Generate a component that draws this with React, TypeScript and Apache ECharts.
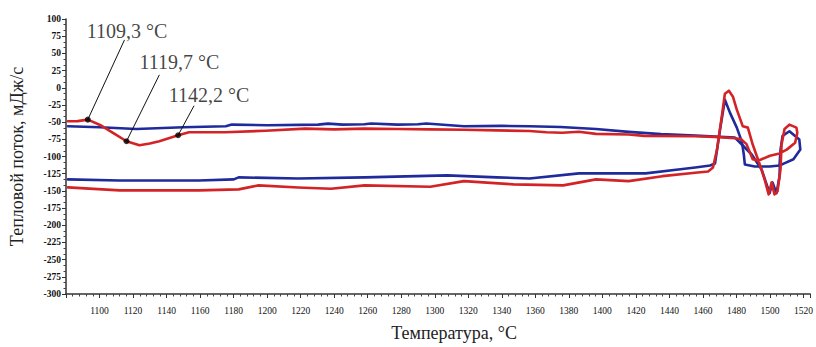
import React, { useEffect, useRef } from "react";
import * as echarts from "echarts";

// Heat flow curves: [temperature °C, heat flow mJ/s]
const blueUpper: number[][] = [
  [1081.2, -56.1], [1100.1, -57.5], [1122.0, -59.9], [1150.0, -57.5], [1175.3, -56.1],
  [1178.9, -53.6], [1200.0, -54.5], [1230.4, -53.6], [1236.3, -52.2], [1245.0, -53.6],
  [1258.0, -53.0], [1262.0, -52.0], [1277.7, -53.6], [1290.0, -53.0], [1295.0, -52.0],
  [1317.4, -56.1], [1340.0, -55.5], [1356.5, -56.1], [1375.0, -57.0], [1396.2, -59.9],
  [1415.7, -64.2], [1435.0, -67.5], [1455.4, -69.6], [1467.2, -71.0], [1479.1, -72.5],
  [1483.2, -82.6], [1489.1, -97.1], [1495.0, -118.8], [1498.0, -140.6], [1499.8, -153.5],
  [1501.5, -137.7], [1503.9, -153.5], [1505.7, -128.6], [1505.9, -113.0]
];

const blueLower: number[][] = [
  [1081.2, -133.3], [1112.0, -134.8], [1159.3, -134.8], [1180.1, -133.3], [1183.0, -130.4],
  [1218.5, -131.9], [1258.2, -130.4], [1307.4, -127.5], [1337.0, -130.4], [1356.5, -131.9],
  [1386.1, -124.6], [1425.8, -124.6], [1445.3, -118.8], [1455.4, -115.9], [1464.3, -113.0],
  [1467.2, -110.1], [1470.2, -60.9], [1473.1, -17.4], [1476.1, -36.2], [1480.2, -58.0],
  [1483.2, -78.3], [1484.4, -97.1], [1485.0, -111.6], [1490.9, -114.5], [1499.8, -114.5],
  [1505.7, -113.0], [1506.3, -90.0], [1507.5, -70.0], [1511.6, -63.3], [1517.5, -75.4],
  [1518.1, -89.9], [1514.0, -104.0], [1508.5, -110.0], [1505.7, -113.0]
];

const redUpper: number[][] = [
  [1081.2, -48.8], [1087.0, -48.5], [1093.0, -46.4], [1101.0, -55.0], [1109.0, -67.0],
  [1116.1, -77.8], [1123.8, -83.6], [1130.0, -81.0], [1135.7, -77.8], [1146.9, -69.1],
  [1153.4, -64.8], [1175.0, -64.8], [1199.0, -62.5], [1222.7, -59.5], [1240.0, -60.5],
  [1258.0, -59.5], [1277.7, -60.0], [1297.0, -60.5], [1317.4, -61.0], [1337.0, -62.0],
  [1356.5, -63.0], [1366.6, -64.8], [1376.0, -65.5], [1386.0, -64.0], [1396.2, -67.1],
  [1415.7, -68.0], [1425.0, -70.0], [1455.4, -70.6], [1467.0, -71.5], [1479.1, -73.5],
  [1482.6, -74.5], [1486.0, -82.0], [1489.7, -104.0], [1493.0, -106.0]
];

const redLower: number[][] = [
  [1081.2, -144.9], [1112.0, -149.3], [1159.3, -149.3], [1183.0, -147.8], [1194.9, -142.0],
  [1218.5, -145.0], [1238.1, -146.8], [1258.2, -142.0], [1297.3, -143.9], [1317.4, -135.8],
  [1347.0, -140.6], [1376.6, -142.0], [1396.2, -133.3], [1415.7, -135.8], [1435.8, -128.6],
  [1455.4, -123.6], [1463.1, -121.7], [1466.0, -115.9], [1468.4, -89.9], [1471.4, -39.1],
  [1473.1, -8.7], [1475.5, -4.3], [1477.9, -13.0], [1480.2, -31.9], [1483.8, -56.1],
  [1486.8, -58.0], [1489.7, -82.6], [1493.9, -111.6], [1496.8, -133.3], [1499.2, -155.1],
  [1501.0, -137.7], [1502.7, -155.1], [1504.5, -150.7], [1506.3, -118.8], [1506.9, -82.6],
  [1508.7, -60.0], [1511.6, -53.6], [1515.8, -58.0], [1516.3, -65.6], [1515.0, -80.0],
  [1510.0, -90.0], [1505.7, -95.5], [1500.0, -99.0], [1493.0, -106.0]
];

// Annotated points and label anchors
const peakLabels = ["1109,3 °C", "1119,7 °C", "1142,2 °C"];
const peakPoints: number[][] = [[1093.0, -46.4], [1116.1, -77.8], [1146.9, -69.1]];
const labelAnchors: number[][] = [[1114.9, 69.6], [1135.7, 18.8], [1156.4, -26.1]];
const labelOffsets: number[][] = [[2.5, -8.5], [20, -12.5], [15, -11]];

const SERIF = "'Liberation Serif', 'Times New Roman', serif";

export default function App() {
  const ref = useRef<HTMLDivElement>(null);
  useEffect(() => {
    if (!ref.current) return;
    const chart = echarts.init(ref.current, undefined, { renderer: "svg" });
    const blue = "#1f2a9c";
    const red = "#d42326";
    const lineBase = (name: string, data: number[][], color: string) => ({
      name,
      type: "line",
      data,
      showSymbol: false,
      symbol: "none",
      smooth: false,
      lineStyle: { color, width: 2.6, join: "round", cap: "round" },
      z: color === red ? 3 : 2,
    });
    chart.setOption({
      animation: false,
      backgroundColor: "#ffffff",
      grid: { left: 66, right: 0, top: 19, bottom: 52, containLabel: false },
      xAxis: {
        type: "value",
        min: 1080,
        max: 1524,
        interval: 20,
        name: "Температура, °С",
        nameLocation: "middle",
        nameGap: 30,
        nameTextStyle: { fontFamily: SERIF, fontSize: 18, color: "#222", padding: [0, 0, 0, 32] },
        axisLine: { show: true, onZero: false, lineStyle: { color: "#333", width: 1.5 } },
        axisTick: { show: true, length: 4, lineStyle: { color: "#333" } },
        minorTick: { show: true, splitNumber: 5, length: 2.5, lineStyle: { color: "#444" } },
        splitLine: { show: false },
        axisLabel: {
          fontFamily: SERIF,
          fontSize: 9.5,
          color: "#111",
          margin: 12,
          formatter: (v: number) => (v === 1080 ? "" : String(v)),
        },
      },
      yAxis: {
        type: "value",
        min: -300,
        max: 100,
        interval: 25,
        name: "Тепловой поток, мДж/с",
        nameLocation: "middle",
        nameGap: 40,
        nameTextStyle: { fontFamily: SERIF, fontSize: 18, color: "#222" },
        axisLine: { show: true, onZero: false, lineStyle: { color: "#333", width: 1.5 } },
        axisTick: { show: true, length: 4, lineStyle: { color: "#333" } },
        minorTick: { show: true, splitNumber: 3, length: 2.5, lineStyle: { color: "#444" } },
        splitLine: { show: false },
        axisLabel: { fontFamily: SERIF, fontSize: 9.5, fontWeight: "bold", color: "#111", margin: 5 },
      },
      series: [
        lineBase("blueUpper", blueUpper, blue),
        lineBase("blueLower", blueLower, blue),
        lineBase("redUpper", redUpper, red),
        lineBase("redLower", redLower, red),
        {
          name: "peaks",
          type: "scatter",
          data: peakPoints,
          symbol: "circle",
          symbolSize: 6,
          itemStyle: { color: "#000" },
          z: 5,
          markLine: {
            silent: true,
            symbol: "none",
            label: { show: false },
            lineStyle: { color: "#111", width: 1, type: "solid" },
            data: peakPoints.map((p, i) => [{ coord: p }, { coord: labelAnchors[i] }]),
          },
        },
        {
          name: "labels",
          type: "scatter",
          symbolSize: 0,
          data: labelAnchors.map((p, i) => ({
            value: p,
            label: {
              show: true,
              position: "inside",
              offset: labelOffsets[i],
              formatter: peakLabels[i],
              fontFamily: SERIF,
              fontSize: 20,
              color: "#111",
            },
          })),
          z: 6,
        },
      ],
    });
    return () => chart.dispose();
  }, []);
  return (
    <div
      ref={ref}
      style={{ position: "fixed", left: 0, top: 0, width: 816, height: 347, background: "#fff" }}
    />
  );
}
